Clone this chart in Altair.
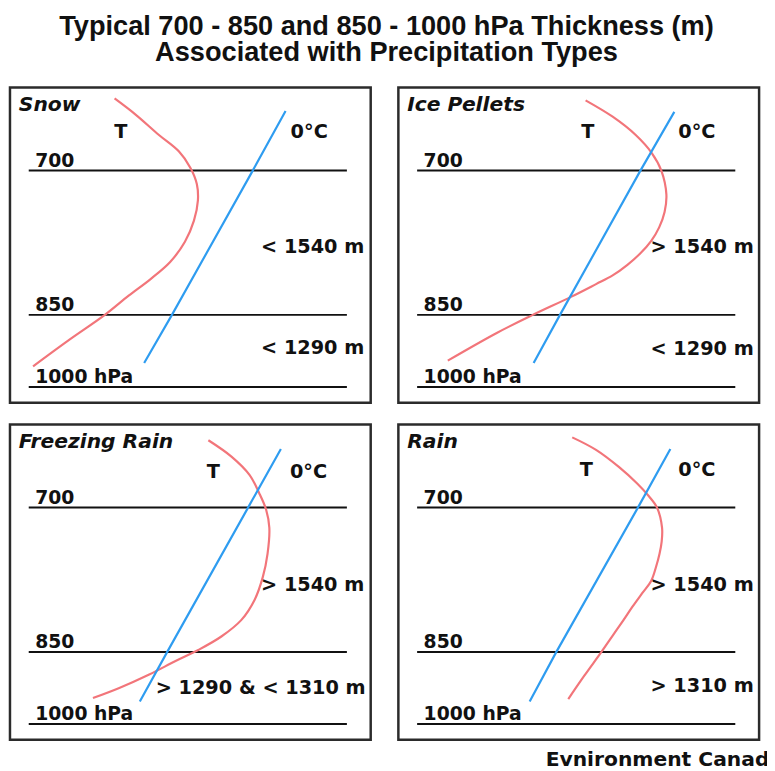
import altair as alt
import pandas as pd

# ---------------- data ----------------
PANELS = ["Snow", "Ice Pellets", "Freezing Rain", "Rain"]
LEVELS = [700, 850, 1000]                      # hPa
LEVEL_LABELS = ["700", "850", "1000 hPa"]

# temperature profile T: horizontal position (% of panel width) vs pressure (hPa)
T_X = {
    "Snow":          [29.0, 34.9, 41.3, 46.8, 50.0, 51.8, 52.1, 51.0, 48.5, 44.4, 38.9, 32.9, 26.3, 16.4, 6.4],
    "Ice Pellets":   [51.9, 59.4, 65.8, 70.3, 72.9, 74.3, 73.8, 72.3, 70.1, 67.1, 63.5, 59.4, 54.8, 48.0, 37.0, 27.4, 13.7],
    "Freezing Rain": [55.0, 61.4, 66.4, 69.1, 71.0, 71.9, 71.4, 70.1, 67.8, 64.1, 58.6, 52.2, 45.9, 38.6, 30.3, 23.0],
    "Rain":          [48.2, 54.8, 61.2, 66.2, 69.4, 71.7, 73.1, 73.0, 72.4, 71.4, 70.1, 67.6, 64.9, 62.4, 59.8, 56.2, 51.6, 47.1],
}
T_P = {
    "Snow":          [625, 642, 663, 680, 697, 714, 731, 752, 774, 795, 813, 830, 850, 902, 957],
    "Ice Pellets":   [627, 644, 663, 682, 700, 725, 743, 759, 773, 786, 798, 809, 818, 831, 851, 887, 945],
    "Freezing Rain": [630, 647, 666, 685, 702, 721, 748, 772, 796, 817, 834, 848, 869, 897, 925, 946],
    "Rain":          [627, 640, 658, 675, 688, 700, 721, 735, 748, 762, 776, 789, 803, 817, 831, 851, 899, 948],
}
# 0 degC isotherm
ZERO_X = {
    "Snow":          [37.2, 44.9, 67.3, 76.4],
    "Ice Pellets":   [37.5, 44.8, 67.1, 76.5],
    "Freezing Rain": [36.0, 43.6, 66.0, 75.1],
    "Rain":          [36.4, 43.8, 66.4, 75.4],
}
ZERO_P = {
    "Snow":          [950, 850, 700, 638],
    "Ice Pellets":   [950, 850, 700, 639],
    "Freezing Rain": [953, 850, 700, 639],
    "Rain":          [953, 850, 700, 639],
}
T_LABEL_X = [30.7, 52.5, 56.4, 52.1]
ZERO_LABEL_X = [77.8, 77.6, 77.6, 77.6]
CURVE_LABEL_P = [660, 660, 663, 661]

UPPER_TEXT = ["< 1540 m", "> 1540 m", "> 1540 m", "> 1540 m"]
UPPER_X = [69.6, 69.9, 69.6, 69.9]
UPPER_P = [779, 779, 781, 781]
LOWER_TEXT = ["< 1290 m", "< 1290 m", "> 1290 & < 1310 m", "> 1310 m"]
LOWER_X = [69.6, 69.9, 40.4, 69.9]
LOWER_P = [919, 922, 925, 922]

TITLE_LINES = ["Typical 700 - 850 and 850 - 1000 hPa Thickness (m)",
               "Associated with Precipitation Types"]
CREDIT = "Evnironment Canada"

# ---------------- styling ----------------
RED = "#F2757A"
BLUE = "#2E9CF0"
INK = "#111111"
FONT = "DejaVu Sans"
W, H = 365, 319

xs = alt.Scale(domain=[0, 100], nice=False, zero=False)
ys = alt.Scale(domain=LEVELS, range=[84, 230, 303], nice=False, zero=False)


def X(field):
    return alt.X(field, scale=xs, axis=None)


def Y(field):
    return alt.Y(field, scale=ys, axis=None)


def panel(i):
    name = PANELS[i]
    lev = pd.DataFrame({"p": LEVELS, "label": LEVEL_LABELS})
    rules = alt.Chart(lev).mark_rule(color=INK, strokeWidth=2).encode(
        x=alt.XDatum(5.2, scale=xs, axis=None),
        x2=alt.X2Datum(93.4),
        y=Y("p:Q"),
    )
    lev_text = alt.Chart(lev).mark_text(
        font=FONT, fontWeight="bold", fontSize=19, align="left",
        baseline="alphabetic", dy=-4, color=INK
    ).encode(x=alt.XDatum(7.0, scale=xs, axis=None), y=Y("p:Q"), text="label:N")

    tdf = pd.DataFrame({"x": T_X[name], "p": T_P[name], "i": list(range(len(T_X[name])))})
    red = alt.Chart(tdf).mark_line(color=RED, strokeWidth=2.2, interpolate="catmull-rom").encode(
        x=X("x:Q"), y=Y("p:Q"), order="i:Q"
    )
    zdf = pd.DataFrame({"x": ZERO_X[name], "p": ZERO_P[name], "i": list(range(4))})
    blue = alt.Chart(zdf).mark_line(color=BLUE, strokeWidth=2.2).encode(
        x=X("x:Q"), y=Y("p:Q"), order="i:Q"
    )

    cl = pd.DataFrame({"x": [T_LABEL_X[i], ZERO_LABEL_X[i]],
                       "p": [CURVE_LABEL_P[i]] * 2,
                       "t": ["T", "0°C"],
                       "a": ["center", "left"]})
    t_lab = alt.Chart(cl).transform_filter(alt.datum.a == "center").mark_text(
        font=FONT, fontWeight="bold", fontSize=19.5, align="center", baseline="middle", color=INK
    ).encode(x=X("x:Q"), y=Y("p:Q"), text="t:N")
    z_lab = alt.Chart(cl).transform_filter(alt.datum.a == "left").mark_text(
        font=FONT, fontWeight="bold", fontSize=19.5, align="left", baseline="middle", color=INK
    ).encode(x=X("x:Q"), y=Y("p:Q"), text="t:N")

    th = pd.DataFrame({"x": [UPPER_X[i], LOWER_X[i]], "p": [UPPER_P[i], LOWER_P[i]],
                       "t": [UPPER_TEXT[i], LOWER_TEXT[i]]})
    th_lab = alt.Chart(th).mark_text(
        font=FONT, fontWeight="bold", fontSize=19.5, align="left", baseline="middle", color=INK
    ).encode(x=X("x:Q"), y=Y("p:Q"), text="t:N")

    ndf = pd.DataFrame({"name": [name]})
    name_lab = alt.Chart(ndf).mark_text(
        font=FONT, fontWeight="bold", fontStyle="italic", fontSize=20.5,
        align="left", baseline="middle", color=INK
    ).encode(x=alt.value(9), y=alt.value(18), text="name:N")

    return alt.layer(rules, lev_text, red, blue, t_lab, z_lab, th_lab, name_lab).properties(
        width=W, height=H,
        view=alt.ViewBackground(stroke="#2b2b2b", strokeWidth=2.5, fill="white"),
    )


row1 = alt.hconcat(panel(0), panel(1), spacing=24)
row2 = alt.hconcat(panel(2), panel(3), spacing=24)
grid = alt.vconcat(row1, row2, spacing=18)

hdf = pd.DataFrame({"line": TITLE_LINES, "row": [0, 1]})
header = alt.Chart(hdf).mark_text(
    font="Liberation Sans", fontWeight="bold", fontSize=27.5, align="center",
    baseline="alphabetic", color=INK
).encode(
    x=alt.value(381),
    y=alt.Y("row:Q", scale=alt.Scale(domain=[0, 1], range=[22.5, 49.5]), axis=None),
    text="line:N",
).properties(width=754, height=74)

fdf = pd.DataFrame({"credit": [CREDIT]})
footer = alt.Chart(fdf).mark_text(
    font=FONT, fontWeight="bold", fontSize=20.5, align="left", baseline="alphabetic",
    color=INK, clip=True
).encode(x=alt.value(542), y=alt.value(24), text="credit:N").properties(width=766, height=25)

chart = alt.vconcat(header, grid, footer, spacing=0).properties(
    padding=0, background="white"
).configure_view(strokeWidth=0)

chart.save("out.html", embed_options={"renderer": "svg", "actions": False})
